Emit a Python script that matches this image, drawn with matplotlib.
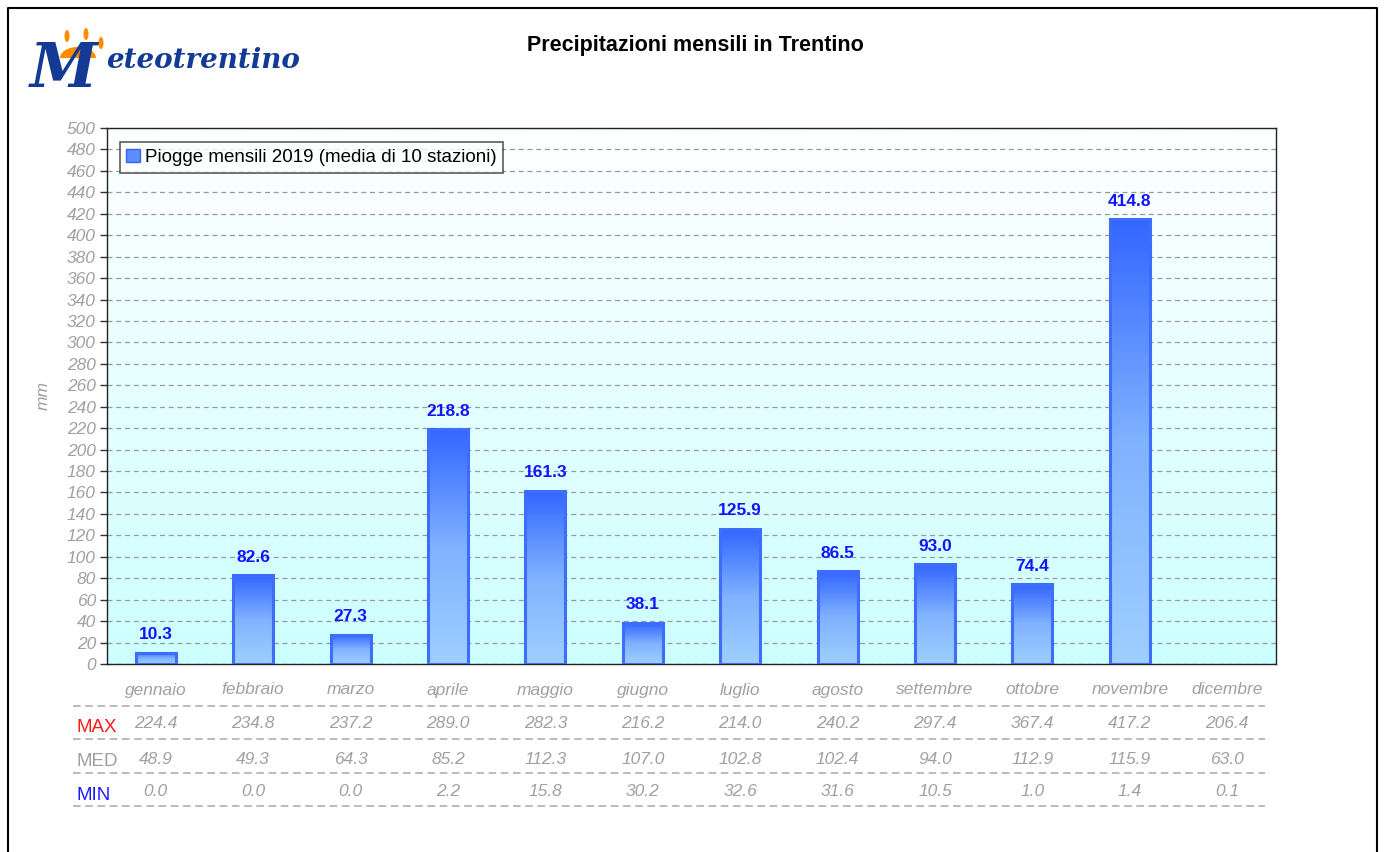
import numpy as np
import matplotlib.pyplot as plt
from matplotlib.patches import Wedge, Ellipse
from matplotlib.lines import Line2D
from matplotlib.colors import LinearSegmentedColormap
import matplotlib.transforms as mtransforms

plt.rcParams['font.family'] = ['Liberation Sans', 'DejaVu Sans']

# dati
mesi = ['gennaio', 'febbraio', 'marzo', 'aprile', 'maggio', 'giugno',
        'luglio', 'agosto', 'settembre', 'ottobre', 'novembre', 'dicembre']
piogge_2019 = [10.3, 82.6, 27.3, 218.8, 161.3, 38.1, 125.9, 86.5, 93.0, 74.4, 414.8, None]
val_max = ['224.4', '234.8', '237.2', '289.0', '282.3', '216.2', '214.0', '240.2', '297.4', '367.4', '417.2', '206.4']
val_med = ['48.9', '49.3', '64.3', '85.2', '112.3', '107.0', '102.8', '102.4', '94.0', '112.9', '115.9', '63.0']
val_min = ['0.0', '0.0', '0.0', '2.2', '15.8', '30.2', '32.6', '31.6', '10.5', '1.0', '1.4', '0.1']

W, H = 1385, 852
fig = plt.figure(figsize=(W / 100, H / 100), dpi=100)
fig.patch.set_facecolor('white')


def fx(px):
    return px / W


def fy(py):
    return 1 - py / H


ax = fig.add_axes([fx(107), fy(664), fx(1276) - fx(107), fy(128) - fy(664)])
x = np.arange(len(mesi))

# sfondo sfumato
bg = LinearSegmentedColormap.from_list('bg', ['#ccffff', '#ffffff'])
ax.imshow(np.linspace(0, 1, 256).reshape(-1, 1), cmap=bg, aspect='auto',
          extent=[0, 1, 0, 1], transform=ax.transAxes, origin='lower', zorder=0)

ax.set_yticks(np.arange(0, 501, 20))
ax.yaxis.grid(True, linestyle=(0, (4, 3)), color='#999999', linewidth=0.9)
ax.set_axisbelow(True)
ax.set_xticks([])
ax.tick_params(axis='y', colors='#333333', length=5, width=1, labelsize=12.5,
               labelcolor='#a0a0a0', pad=3)
for lab in ax.get_yticklabels():
    lab.set_fontstyle('italic')
for s in ax.spines.values():
    s.set_color('#222222')
    s.set_linewidth(1)
ax.set_ylabel('mm', fontstyle='italic', color='#a0a0a0', fontsize=12.5, labelpad=12)

# barre con gradiente
bar_cmap = LinearSegmentedColormap.from_list('bar', ['#9fcfff', '#7fb2ff', '#3366ff'])
vals = [v if v is not None else 0 for v in piogge_2019]
bars = ax.bar(x, vals, width=0.41, facecolor='none', edgecolor='#3f6dfb',
              linewidth=2.2, zorder=3)
grad = np.linspace(0, 1, 256).reshape(-1, 1)
for b, v in zip(bars, piogge_2019):
    if v is None:
        b.set_visible(False)
        continue
    x0, w = b.get_x(), b.get_width()
    ax.imshow(grad, cmap=bar_cmap, aspect='auto', origin='lower',
              extent=[x0, x0 + w, 0, v], zorder=2)
    ax.text(x0 + w / 2, v + 10, f'{v:.1f}', ha='center', va='bottom',
            color='#1414ff', fontsize=12.5, fontweight='bold', zorder=4)
ax.set_xlim(-0.5, len(mesi) - 0.5)
ax.set_ylim(0, 500)

# legenda
leg_handle = plt.Rectangle((0, 0), 1, 1, facecolor='#5f8dff', edgecolor='#3366ff')
leg = ax.legend([leg_handle], ['Piogge mensili 2019 (media di 10 stazioni)'],
                loc='upper left', bbox_to_anchor=(0.011, 0.973), fontsize=13.5,
                frameon=True, fancybox=False, handlelength=0.7, handleheight=0.7,
                handletextpad=0.3, borderpad=0.35, borderaxespad=0)
leg.get_frame().set_edgecolor('#333333')
leg.get_frame().set_linewidth(1.2)

# titolo
fig.text(fx(695), fy(45), 'Precipitazioni mensili in Trentino', ha='center',
         va='center', fontsize=15.5, fontweight='bold', color='black')

# tabella sotto il grafico
trans = mtransforms.blended_transform_factory(ax.transData, fig.transFigure)
rows = [('MAX', '#ff1a1a', val_max, 724),
        ('MED', '#a0a0a0', val_med, 759),
        ('MIN', '#1a1aff', val_min, 792)]
for i, m in enumerate(mesi):
    fig.text(x[i], fy(690), m, transform=trans, ha='center', va='center',
             fontsize=12.5, fontstyle='italic', color='#a0a0a0')
for nome, col, valori, ypix in rows:
    fig.text(fx(77), fy(ypix + 3), nome, ha='left', va='center', fontsize=13.5,
             color=col)
    for i, v in enumerate(valori):
        fig.text(x[i], fy(ypix), v, transform=trans, ha='center', va='center',
                 fontsize=12.5, fontstyle='italic', color='#a0a0a0')
for ypix in [706, 739, 773, 806]:
    fig.add_artist(Line2D([fx(73), fx(1265)], [fy(ypix), fy(ypix)],
                          color='#a8a8a8', linewidth=1.1,
                          linestyle=(0, (5, 3)), transform=fig.transFigure))

# cornice
fig.add_artist(Line2D([fx(8), fx(8), fx(1377), fx(1377)],
                      [0, fy(8), fy(8), 0], color='black', linewidth=1.5,
                      transform=fig.transFigure))

# logo
fig.add_artist(Wedge((fx(78), fy(58)), fx(18), 0, 180, facecolor='#ff8c00',
                     edgecolor='none', transform=fig.transFigure))
for ex, ey in [(67, 36), (86, 34), (101, 43)]:
    fig.add_artist(Ellipse((fx(ex), fy(ey)), fx(5), 12 / H, facecolor='#ff8c00',
                           edgecolor='none', transform=fig.transFigure))
fig.text(fx(30), fy(70), 'M', fontsize=44, fontstyle='italic', color='#133a94',
         family='DejaVu Serif', ha='left', va='center', fontweight='bold')
fig.text(fx(106), fy(60), 'eteotrentino', fontsize=20, fontstyle='italic',
         color='#133a94', family='DejaVu Serif', ha='left', va='center',
         fontweight='bold')

fig.savefig('out.png', dpi=100)
